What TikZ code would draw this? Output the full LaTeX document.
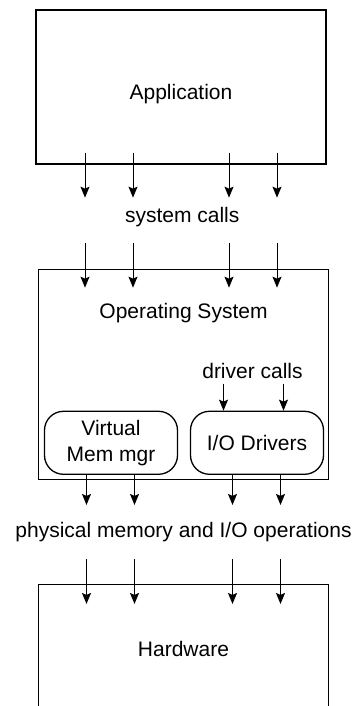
\documentclass[tikz,border=0pt]{standalone}
\usepackage{fontspec}
\setmainfont{Liberation Sans}
\usetikzlibrary{positioning,arrows.meta,calc}

\begin{document}
\begin{tikzpicture}[
        x=1pt,y=1pt,
        layer/.style={draw,line width=1.3pt,minimum width=290pt,font=\fontsize{21}{26}\selectfont},
        module/.style={draw,line width=1.3pt,rounded corners=19pt,align=center,minimum width=133pt,minimum height=63pt,font=\fontsize{21}{26}\selectfont},
        lbl/.style={font=\fontsize{21}{26}\selectfont,inner sep=0pt},
        flow/.style={-{Stealth[length=11pt,width=9pt,inset=2pt]},line width=0.9pt},
        node distance=104pt]
        \useasboundingbox (0,0) rectangle (353,706);
        \clip (0,0) rectangle (353,706);
        \node[layer,minimum height=154pt,text height=29pt] (app) at (181,619) {Application};
        \node[layer,minimum height=210pt,below=of app,xshift=2.5pt] (os) {};
        \node[layer,minimum height=144pt,below=of os,text depth=16pt] (hw) {Hardware};
        \node[lbl] (syscalls) at ($(app.south)!0.5!(os.north)$) {system calls};
        \node[lbl] (physops) at ($(os.south)!0.5!(hw.north)$) {physical memory and I/O operations};
        \node[lbl,below=44pt of os.north,anchor=center] (oslbl) {Operating System};
        \node[module,anchor=south west] (vmm) at ([shift={(6pt,5pt)}]os.south west) {Virtual\\Mem mgr};
        \node[module,anchor=south east] (iodrv) at ([shift={(-5pt,5pt)}]os.south east) {I/O Drivers};
        \node[lbl] (drvcalls) at ([shift={(-4.5pt,40pt)}]iodrv.north) {driver calls};
        % system calls
        \foreach \dx in {-96,-48,48,96} {
            \draw[flow] ([xshift=\dx pt,yshift=12pt]app.south) -- ++(0,-45);
            \draw[flow] ([xshift=\dx pt-2.5pt,yshift=26pt]os.north) -- ++(0,-45);
        }
        % driver calls
        \foreach \dx in {-33.5,26.5}
            \draw[flow] ([xshift=\dx pt,yshift=27pt]iodrv.north) -- ([xshift=\dx pt]iodrv.north);
        % to hardware
        \foreach \m in {vmm,iodrv} {
            \foreach \dx in {-24.5,23.5} {
                \draw[flow] ([xshift=\dx pt]\m.south) -- ++(0,-30);
                \draw[flow] ([xshift=\dx pt,yshift=-84pt]\m.south) -- ++(0,-45);
            }
        }
    \end{tikzpicture}
\end{document}
